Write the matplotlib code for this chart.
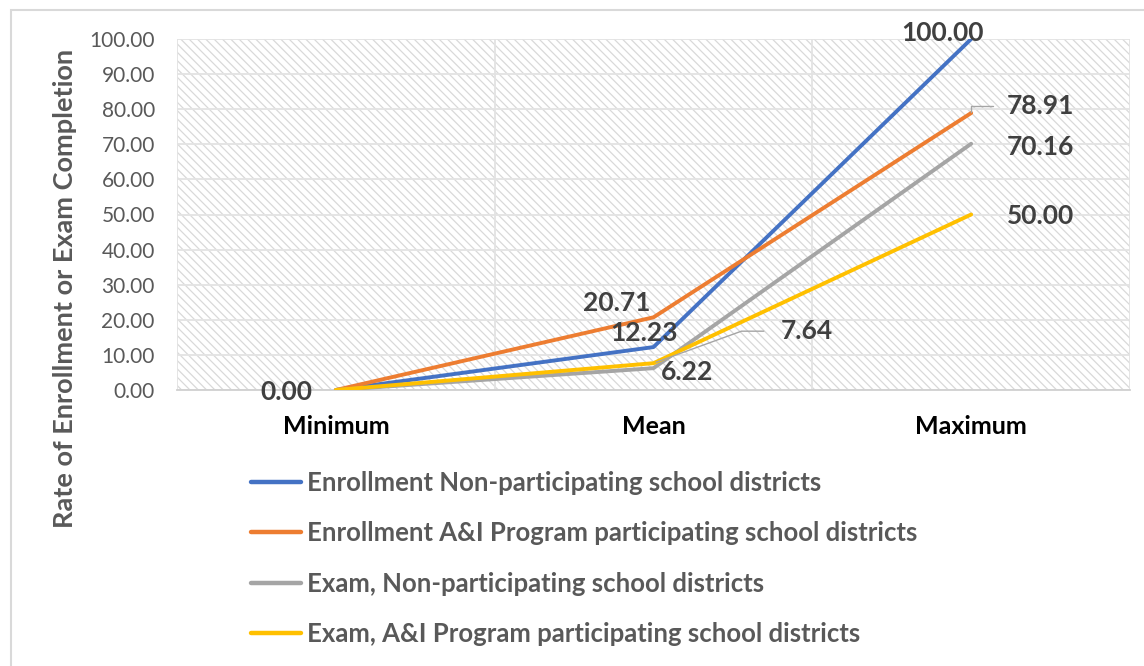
import matplotlib
matplotlib.use("Agg")
import matplotlib.pyplot as plt
from matplotlib.patches import Rectangle

# categories and series values
categories = ["Minimum", "Mean", "Maximum"]
enroll_non = [0.00, 12.23, 100.00]
enroll_ai = [0.00, 20.71, 78.91]
exam_non = [0.00, 6.22, 70.16]
exam_ai = [0.00, 7.64, 50.00]
series_names = [
    "Enrollment Non-participating school districts",
    "Enrollment A&I Program participating school districts",
    "Exam, Non-participating school districts",
    "Exam, A&I Program participating school districts",
]
y_ticks = [0, 10, 20, 30, 40, 50, 60, 70, 80, 90, 100]

colors = ["#4472C4", "#ED7D31", "#A5A5A5", "#FFC000"]

plt.rcParams["font.family"] = ["Lato", "DejaVu Sans"]
plt.rcParams["hatch.color"] = "#d9d9d9"
plt.rcParams["hatch.linewidth"] = 0.9

fig = plt.figure(figsize=(11.44, 6.66), dpi=100)
ax = fig.add_axes([177 / 1144, 1 - 390 / 666, (1130 - 177) / 1144, (390 - 39) / 666])

# hatched plot area
ax.patch.set_facecolor("white")
ax.patch.set_hatch("\\\\\\\\")
ax.patch.set_edgecolor("#d9d9d9")
ax.patch.set_linewidth(0)

x = range(len(categories))
series = [enroll_non, enroll_ai, exam_non, exam_ai]
for vals, name, c in zip(series, series_names, colors):
    ax.plot(x, vals, color=c, lw=2.8, label=name, solid_capstyle="round", zorder=3)

ax.set_xlim(-0.5, 2.5)
ax.set_ylim(0, 100)
ax.set_yticks(y_ticks)
ax.set_yticklabels([f"{v:.2f}" for v in y_ticks], fontsize=15, color="#595959")
ax.set_xticks(list(x))
ax.set_xticklabels(categories, fontsize=18, fontweight="bold", color="#000000")
ax.set_xticks([-0.5, 0.5, 1.5, 2.5], minor=True)
ax.tick_params(axis="both", which="both", length=0)
ax.tick_params(axis="x", pad=18)
ax.tick_params(axis="y", pad=16)
ax.grid(axis="y", which="major", color="#e3e3e3", lw=1.3, zorder=1)
ax.grid(axis="x", which="minor", color="#e3e3e3", lw=1.3, zorder=1)
ax.set_axisbelow(True)
for s in ["top", "right", "left"]:
    ax.spines[s].set_visible(False)
ax.spines["bottom"].set_color("#d0d0d0")
ax.spines["bottom"].set_linewidth(1.3)

fig.text(65 / 1144, 1 - 288 / 666, "Rate of Enrollment or Exam Completion", rotation=90,
         fontsize=19.5, fontweight="bold", color="#595959", ha="center", va="center")

# data labels (offsets in pixels from each point)
lab = dict(fontsize=19, fontweight="bold", color="#404040", ha="center", va="center",
           textcoords="offset pixels", zorder=5)
ax.annotate(f"{enroll_non[0]:.2f}", (0, enroll_non[0]), xytext=(-49, -2), **lab)
ax.annotate(f"{enroll_ai[1]:.2f}", (1, enroll_ai[1]), xytext=(-37, 14), **lab)
ax.annotate(f"{enroll_non[1]:.2f}", (1, enroll_non[1]), xytext=(-9, 14), **lab)
ax.annotate(f"{exam_non[1]:.2f}", (1, exam_non[1]), xytext=(34, -4), **lab)
ax.annotate(f"{exam_ai[1]:.2f}", (1, exam_ai[1]), xytext=(153, 32), **lab,
            arrowprops=dict(arrowstyle="-", color="#a5a5a5", lw=1,
                            relpos=(0, 0.5), shrinkA=10, shrinkB=2,
                            connectionstyle="angle,angleA=180,angleB=200,rad=0"))
ax.annotate(f"{enroll_non[2]:.2f}", (2, enroll_non[2]), xytext=(-29, 6), **lab)
ax.annotate(f"{enroll_ai[2]:.2f}", (2, enroll_ai[2]), xytext=(69, 7), **lab,
            arrowprops=dict(arrowstyle="-", color="#a5a5a5", lw=1,
                            relpos=(0, 0.5), shrinkA=8, shrinkB=1,
                            connectionstyle="angle,angleA=180,angleB=90,rad=0"))
ax.annotate(f"{exam_non[2]:.2f}", (2, exam_non[2]), xytext=(69, -3), **lab)
ax.annotate(f"{exam_ai[2]:.2f}", (2, exam_ai[2]), xytext=(69, -2), **lab)

leg = fig.legend(loc="upper left", bbox_to_anchor=(241 / 1144, 1 - 461 / 666), frameon=False,
                 prop=dict(size=18.5, weight="bold"), labelcolor="#595959",
                 handlelength=1.95, handletextpad=0.2, labelspacing=1.02, borderaxespad=0)
for h in leg.legend_handles:
    h.set_linewidth(3.2)

# chart frame
fig.patches.append(Rectangle((11 / 1144, -0.1), 1.2, 1.1 - 10 / 666, transform=fig.transFigure,
                             fill=False, edgecolor="#d9d9d9", lw=1.5))

fig.savefig("out.png", dpi=100)
